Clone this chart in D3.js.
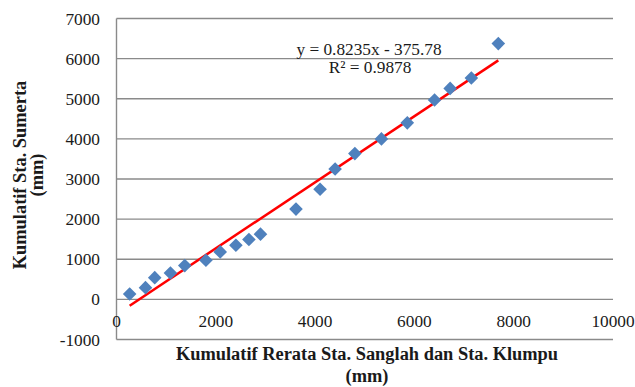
<!DOCTYPE html>
<html><head><meta charset="utf-8">
<script src="https://cdn.jsdelivr.net/npm/d3@7"></script>
<style>html,body{margin:0;padding:0;background:#fff;}svg{display:block;}</style>
</head><body>
<svg id="c" width="635" height="387"></svg>
<script>
const xValues = [265, 584, 770, 1086, 1375, 1801, 2089, 2405, 2667, 2900, 3615, 4100, 4403, 4801, 5336, 5857, 6406, 6720, 7147, 7690];
const yValues = [133, 292, 542, 658, 842, 975, 1183, 1350, 1492, 1625, 2250, 2745, 3250, 3633, 4000, 4400, 4967, 5258, 5517, 6375];
const xTicks = [0, 2000, 4000, 6000, 8000, 10000];
const yTicks = [-1000, 0, 1000, 2000, 3000, 4000, 5000, 6000, 7000];
const slope = 0.8235, intercept = -375.78;
const eqText = "y = 0.8235x - 375.78";
const r2Text = "R² = 0.9878";
const xTitle = "Kumulatif Rerata Sta. Sanglah dan Sta. Klumpu";
const yTitle = "Kumulatif Sta. Sumerta";
const unitText = "(mm)";

const svg = d3.select("#c");
const x = d3.scaleLinear().domain([0, 10000]).range([116.5, 613]);
const y = d3.scaleLinear().domain([-1000, 7000]).range([339.5, 18.5]);
const font = "'Liberation Serif', 'Times New Roman', serif";
const grid = "#8a8a8a";
const ink = "#1a1a1a";

svg.append("g").selectAll("line").data(yTicks).join("line")
  .attr("x1", x(0)).attr("x2", x(10000))
  .attr("y1", d => y(d)).attr("y2", d => y(d))
  .attr("stroke", grid).attr("stroke-width", 1.4);
svg.append("line").attr("x1", x(0)).attr("x2", x(0)).attr("y1", y(7000)).attr("y2", y(-1000))
  .attr("stroke", grid).attr("stroke-width", 1.4);

svg.append("g").selectAll("text").data(yTicks).join("text")
  .attr("x", 100).attr("y", d => y(d)).attr("dy", "0.35em")
  .attr("text-anchor", "end").attr("font-family", font).attr("font-size", 17.3).attr("fill", ink)
  .text(d => d);
svg.append("g").selectAll("text").data(xTicks).join("text")
  .attr("x", d => x(d)).attr("y", 327)
  .attr("text-anchor", "middle").attr("font-family", font).attr("font-size", 17.3).attr("fill", ink)
  .text(d => d);

const xmin = d3.min(xValues), xmax = d3.max(xValues);
svg.append("line")
  .attr("x1", x(xmin)).attr("y1", y(slope * xmin + intercept))
  .attr("x2", x(xmax)).attr("y2", y(slope * xmax + intercept))
  .attr("stroke", "#ff0000").attr("stroke-width", 2.5);

const pts = xValues.map((v, i) => [v, yValues[i]]);
const r = 6.8;
svg.append("g").selectAll("path").data(pts).join("path")
  .attr("d", d => { const cx = x(d[0]), cy = y(d[1]); return `M${cx},${cy - r}L${cx + r},${cy}L${cx},${cy + r}L${cx - r},${cy}Z`; })
  .attr("fill", "#4f81bd");

svg.append("text").attr("x", 369).attr("y", 55).attr("text-anchor", "middle")
  .attr("font-family", font).attr("font-size", 17.3).attr("fill", ink).text(eqText);
svg.append("text").attr("x", 370).attr("y", 73).attr("text-anchor", "middle")
  .attr("font-family", font).attr("font-size", 17.3).attr("fill", ink).text(r2Text);

const tf = 18.4;
svg.append("text").attr("x", 367).attr("y", 360).attr("text-anchor", "middle")
  .attr("font-family", font).attr("font-size", tf).attr("font-weight", "bold").attr("fill", ink).text(xTitle);
svg.append("text").attr("x", 367).attr("y", 382).attr("text-anchor", "middle")
  .attr("font-family", font).attr("font-size", tf).attr("font-weight", "bold").attr("fill", ink).text(unitText);
svg.append("text").attr("transform", "translate(26,175) rotate(-90)").attr("text-anchor", "middle")
  .attr("font-family", font).attr("font-size", tf).attr("font-weight", "bold").attr("fill", ink).text(yTitle);
svg.append("text").attr("transform", "translate(42.5,175) rotate(-90)").attr("text-anchor", "middle")
  .attr("font-family", font).attr("font-size", tf).attr("font-weight", "bold").attr("fill", ink).text(unitText);
</script>
</body></html>
